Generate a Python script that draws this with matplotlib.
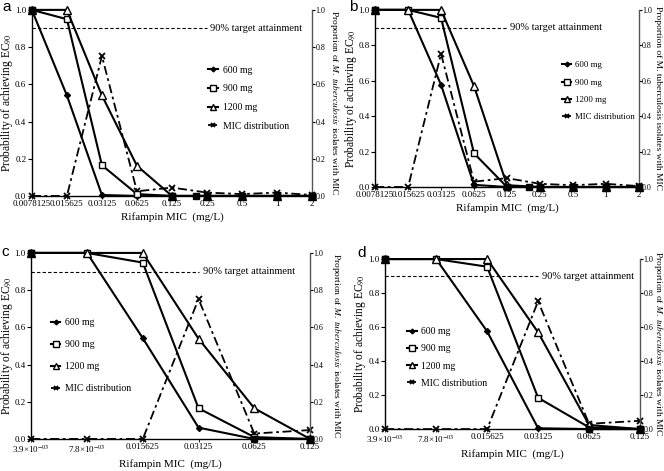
import matplotlib
matplotlib.use("Agg")
import matplotlib.pyplot as plt

plt.rcParams['font.family'] = ['Liberation Serif', 'DejaVu Serif']
plt.rcParams['mathtext.fontset'] = 'stix'

# ---------------- data ----------------
# panels a and b
mic_ab = [0.0078125, 0.015625, 0.03125, 0.0625, 0.125, 0.25, 0.5, 1, 2]
ticklabels_ab = ["0.0078125", "0.015625", "0.03125", "0.0625", "0.125", "0.25", "0.5", "1", "2"]
a_600 = [1.0, 0.54, 0.005, 0.0, 0.0, 0.0, 0.0, 0.0, 0.0]
a_900 = [1.0, 0.95, 0.165, 0.01, 0.0, 0.0, 0.0, 0.0, 0.0]
a_1200 = [1.0, 1.0, 0.54, 0.162, 0.0, 0.0, 0.0, 0.0, 0.0]
a_dist = [0.0, 0.0, 0.752, 0.025, 0.045, 0.018, 0.01, 0.018, 0.005]

b_600 = [1.0, 1.0, 0.577, 0.012, 0.0, 0.0, 0.0, 0.0, 0.0]
b_900 = [1.0, 1.0, 0.955, 0.19, 0.0, 0.0, 0.0, 0.0, 0.0]
b_1200 = [1.0, 1.0, 1.0, 0.57, 0.01, 0.0, 0.0, 0.0, 0.0]
b_dist = [0.0, 0.0, 0.752, 0.03, 0.05, 0.018, 0.01, 0.018, 0.005]

sq_ab_x = [0.0078125, 0.125, 0.2, 0.25, 0.5, 1, 2]
sq_ab_y = [1.0, 0.0, 0.0, 0.0, 0.0, 0.0, 0.0]

# panels c and d
mic_cd = [0.00390625, 0.0078125, 0.015625, 0.03125, 0.0625, 0.125]
ticklabels_cd = [r"3.9×10$^{-03}$", r"7.8×10$^{-03}$", "0.015625", "0.03125", "0.0625", "0.125"]
c_600 = [1.0, 1.0, 0.542, 0.061, 0.0, 0.0]
c_900 = [1.0, 1.0, 0.948, 0.165, 0.01, 0.0]
c_1200 = [1.0, 1.0, 1.0, 0.539, 0.165, 0.0]
c_dist = [0.0, 0.0, 0.0, 0.752, 0.029, 0.048]

d_600 = [1.0, 1.0, 0.575, 0.005, 0.0, 0.0]
d_900 = [1.0, 1.0, 0.955, 0.184, 0.01, 0.0]
d_1200 = [1.0, 1.0, 1.0, 0.569, 0.024, 0.0]
d_dist = [0.0, 0.0, 0.0, 0.751, 0.031, 0.049]

sq_cd_x = [0.00390625, 0.0625, 0.125]
sq_cd_y = [1.0, 0.0, 0.0]

yticks = [0.0, 0.2, 0.4, 0.6, 0.8, 1.0]
ylabels = ["0.0", "0.2", "0.4", "0.6", "0.8", "1.0"]

panels = [
    dict(letter="a", rect=[0.048, 0.584, 0.422, 0.395], x=mic_ab, tl=ticklabels_ab,
         s600=a_600, s900=a_900, s1200=a_1200, dist=a_dist, sqx=sq_ab_x, sqy=sq_ab_y,
         line_end=0.25, leg=(0.63, 0.70), ls=1.0, lfs=7, italic=True, rlab_x=334,
         letter_xy=(2, 0), lab_x=7),
    dict(letter="b", rect=[0.565, 0.603, 0.397, 0.376], x=mic_ab, tl=ticklabels_ab,
         s600=b_600, s900=b_900, s1200=b_1200, dist=b_dist, sqx=sq_ab_x, sqy=sq_ab_y,
         line_end=0.125, leg=(0.71, 0.71), ls=1.05, lfs=6.3, italic=False, rlab_x=658.5,
         letter_xy=(349, 0), lab_x=351),
    dict(letter="c", rect=[0.047, 0.068, 0.420, 0.395], x=mic_cd, tl=ticklabels_cd,
         s600=c_600, s900=c_900, s1200=c_1200, dist=c_dist, sqx=sq_cd_x, sqy=sq_cd_y,
         line_end=0.03125, leg=(0.07, 0.65), ls=1.35, lfs=7, italic=True, rlab_x=337,
         letter_xy=(1, 245), lab_x=7),
    dict(letter="d", rect=[0.580, 0.089, 0.384, 0.361], x=mic_cd, tl=ticklabels_cd,
         s600=d_600, s900=d_900, s1200=d_1200, dist=d_dist, sqx=sq_cd_x, sqy=sq_cd_y,
         line_end=0.03125, leg=(0.085, 0.60), ls=0.85, lfs=7, italic=True, rlab_x=658.5,
         letter_xy=(357, 246), lab_x=360),
]

W, H = 664, 471
fig = plt.figure(figsize=(W / 100, H / 100), dpi=100)

dist_style = (0, (5, 2, 1.5, 2))

for p in panels:
    ax = fig.add_axes(p["rect"])
    ax2 = ax.twinx()
    x = p["x"]
    ax.set_xscale("log", base=2)
    ax.set_xlim(x[0], x[-1])
    ax.set_ylim(0, 1.0)
    ax2.set_ylim(0, 1.0)

    ax.plot(x, p["s600"], color="black", lw=1.5, marker="D", ms=3,
            mfc="black", clip_on=False, label="600 mg", zorder=3)
    ax.plot(x, p["s900"], color="black", lw=1.5, marker="s", ms=5,
            mfc="white", mew=1.0, clip_on=False, label="900 mg", zorder=3)
    ax.plot(x, p["s1200"], color="black", lw=1.5, marker="^", ms=5.5,
            mfc="white", mew=1.0, clip_on=False, label="1200 mg", zorder=3)
    ax.plot(p["sqx"], p["sqy"], linestyle="none", marker="s", ms=5,
            color="black", clip_on=False, zorder=4)
    l4, = ax2.plot(x, p["dist"], color="black", lw=1.3, linestyle=dist_style,
                   marker="x", ms=4, mew=1.3, clip_on=False, label="MIC distribution")

    # target line
    ax.plot([x[0], p["line_end"]], [0.9, 0.9], color="black", lw=0.8,
            linestyle=(0, (3, 2)))
    ax.text(p["line_end"] * 1.06, 0.9, "90% target attainment", fontsize=7.5,
            va="center", ha="left")

    ax.set_xticks(x)
    ax.set_xticklabels(p["tl"], fontsize=6.5)
    ax.xaxis.set_minor_locator(matplotlib.ticker.NullLocator())
    ax.tick_params(axis="x", length=2, width=0.6, pad=1)
    ax.set_yticks(yticks)
    ax.set_yticklabels(ylabels, fontsize=6.5)
    ax.tick_params(axis="y", length=3, width=0.8, pad=1)
    ax2.set_yticks(yticks)
    ax2.set_yticklabels(ylabels, fontsize=5.8)
    ax2.tick_params(axis="y", length=2, width=0.8, pad=0.5)

    for a_ in (ax, ax2):
        a_.spines["top"].set_visible(False)
        for s in ("left", "bottom", "right"):
            a_.spines[s].set_linewidth(1.0)
    ax.spines["right"].set_visible(False)
    ax2.spines["left"].set_visible(False)
    ax2.spines["bottom"].set_visible(False)
    ax2.spines["right"].set_color("#555555")

    ax.set_xlabel("Rifampin MIC  (mg/L)", fontsize=8, labelpad=3)
    fig.text(p["lab_x"] / W, (p["rect"][1] + p["rect"][3] / 2), "Probability of achieving EC$_{90}$",
             rotation=90, fontsize=8.3, ha="center", va="center")

    if p["italic"]:
        rl = r"Proportion of $\it{M.\ tuberculosis}$ isolates with MIC"
    else:
        rl = "Proportion of M. tuberculosis isolates with MIC"
    fig.text(p["rlab_x"] / W, p["rect"][1] + p["rect"][3] / 2, rl, rotation=270,
             fontsize=6.8, ha="center", va="center")

    fig.text(p["letter_xy"][0] / W, 1 - p["letter_xy"][1] / H, p["letter"],
             fontsize=11, family="Liberation Sans", ha="left", va="top")

    h1, lab1 = ax.get_legend_handles_labels()
    leg = ax.legend(h1 + [l4], lab1 + ["MIC distribution"], loc="upper left",
                    bbox_to_anchor=p["leg"], frameon=False, fontsize=p["lfs"],
                    handlelength=1.0, handletextpad=0.5, labelspacing=p["ls"],
                    borderpad=0, borderaxespad=0, markerscale=0.8)
    ax.set_zorder(ax2.get_zorder() + 1)
    ax.patch.set_visible(False)

fig.savefig("out.png", dpi=100)
